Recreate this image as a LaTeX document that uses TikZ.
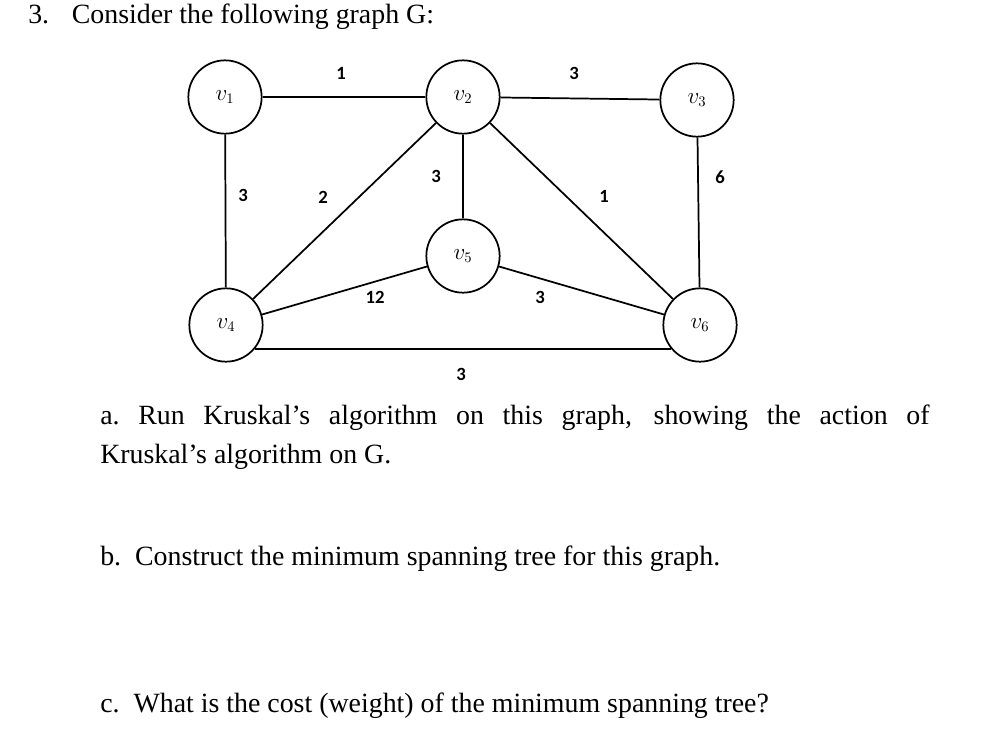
\documentclass[tikz,border=0pt]{standalone}
\usepackage{fontspec}
\setmainfont{Liberation Serif}
\newfontfamily\lbl{Carlito}
\begin{document}
\begin{tikzpicture}[x=0.75pt,y=-0.75pt,
  vtx/.style={draw,line width=1.3pt,circle,minimum size=55pt,inner sep=0pt,font=\fontsize{16}{18}\selectfont},
  edge/.style={line width=1.3pt},
  wt/.style={font=\lbl\fontsize{14}{16}\selectfont\bfseries,inner sep=1pt},
  txt/.style={font=\fontsize{20.9}{29}\selectfont,anchor=base west,inner sep=0pt}]
\useasboundingbox (0,0) rectangle (989,729);
\node (v1) [vtx] at (225,97) {$v_1$};
\node (v2) [vtx] at (463,97) {$v_2$};
\node (v3) [vtx] at (697,100) {$v_3$};
\node (v5) [vtx] at (463,256) {$v_5$};
\node (v4) [vtx] at (226,325) {$v_4$};
\node (v6) [vtx] at (700,325) {$v_6$};
\draw[edge] (v1) -- (v2);
\draw[edge] (v2) -- (v3);
\draw[edge] (v1) -- (v4);
\draw[edge] (v4) -- (v2);
\draw[edge] (v2) -- (v5);
\draw[edge] (v2) -- (v6);
\draw[edge] (v3) -- (v6);
\draw[edge] (v4) -- (v5);
\draw[edge] (v5) -- (v6);
\draw[edge] (v4.-40) -- (v6.220);
\node (w1) [wt] at (341,73) {1};
\node (w2) [wt] at (574,73) {3};
\node (w3) [wt] at (243,195) {3};
\node (w4) [wt] at (323,197) {2};
\node (w5) [wt] at (436,176) {3};
\node (w6) [wt] at (604,196) {1};
\node (w7) [wt] at (720,177) {6};
\node (w8) [wt] at (375,297) {12};
\node (w9) [wt] at (540,297) {3};
\node (w10) [wt] at (461,374) {3};
\node (t0) [txt] at (28,23) {3.\hspace{17pt}Consider the following graph G:};
\node (ta) [txt,text width=622pt,align=justify,anchor=north west] at (100,405) {\hangindent=27pt\hangafter=1 a.\ Run Kruskal’s algorithm on this graph, showing the action of\linebreak Kruskal’s algorithm on G.};
\node (tb) [txt] at (100,565) {b.\ \ Construct the minimum spanning tree for this graph.};
\node (tc) [txt] at (100,712) {c.\ \ What is the cost (weight) of the minimum spanning tree?};
\end{tikzpicture}
\end{document}
